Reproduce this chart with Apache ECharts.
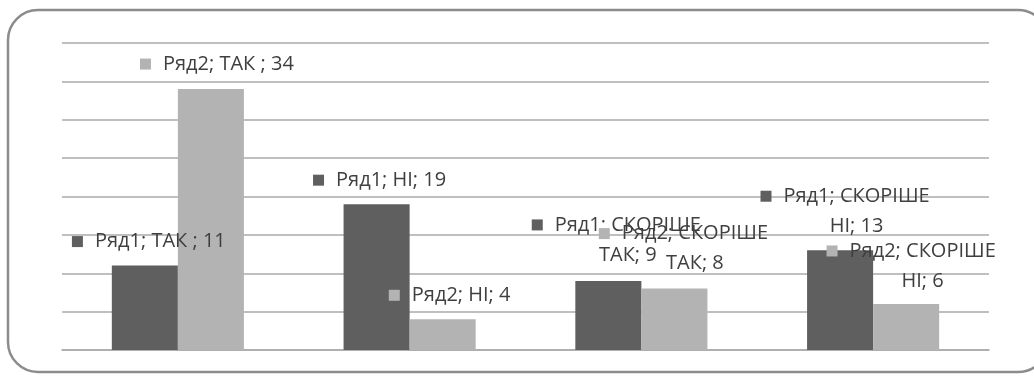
<!DOCTYPE html>
<html>
<head>
<meta charset="utf-8">
<script src="https://cdn.jsdelivr.net/npm/echarts@6/dist/echarts.min.js"></script>
<style>
  html, body { margin: 0; padding: 0; background: #fff; }
  #chart { width: 1034px; height: 376px; }
</style>
</head>
<body>
<div id="chart"></div>
<script>
// ---- data ----
const categories = ['ТАК ', 'НІ', 'СКОРІШЕ ТАК', 'СКОРІШЕ НІ'];
const seriesNames = ['Ряд1', 'Ряд2'];
const row1Values = [11, 19, 9, 13];
const row2Values = [34, 4, 8, 6];
const yMin = 0, yMax = 40, yInterval = 5;

// ---- styling ----
const colors = ['#5f5f5f', '#b3b3b3'];
const fontFamily = '"Open Sans", "Noto Sans", sans-serif';
const textColor = '#3f3f3f';
// label offsets (px) from the top-centre of each bar to the label centre
const labelOffsets = [
  [[4, -24], [3, -24], [8, -41], [5, -39]],
  [[6, -25], [7, -24], [9, -40], [5, -38]]
];

function labelText(sName, cat, val) {
  const trimmed = cat.trim();
  const sp = trimmed.indexOf(' ');
  if (sp > 0) {
    return '{sq|}{g|}{t|' + sName + '; ' + trimmed.slice(0, sp) + '}\n{sp|}{t|' + trimmed.slice(sp + 1) + '; ' + val + '}';
  }
  return '{sq|}{g|}{t|' + sName + '; ' + cat + '; ' + val + '}';
}

function buildSeries(si, values) {
  return {
    name: seriesNames[si],
    type: 'bar',
    barGap: '0%',
    barCategoryGap: '43%',
    itemStyle: { color: colors[si] },
    data: values.map((v, ci) => {
      const multi = categories[ci].trim().indexOf(' ') > 0;
      return {
        value: v,
        label: {
          show: true,
          position: ['50%', 0],
          align: 'center',
          verticalAlign: 'middle',
          offset: labelOffsets[si][ci],
          formatter: labelText(seriesNames[si], categories[ci], v),
          rich: {
            sq: { width: 11, height: 11, backgroundColor: colors[si] },
            g: { width: 12 },
            sp: { width: 23 },
            t: { fontSize: 20, fontFamily: fontFamily, color: textColor, lineHeight: multi ? 30 : 24 }
          }
        }
      };
    })
  };
}

const chart = echarts.init(document.getElementById('chart'), null, { renderer: 'canvas' });
chart.setOption({
  animation: false,
  backgroundColor: '#ffffff',
  graphic: [{
    type: 'rect',
    shape: { x: 8, y: 10, width: 1040, height: 362, r: 30 },
    style: { fill: 'none', stroke: '#8c8c8c', lineWidth: 2.5 },
    z: -1
  }],
  grid: { left: 62, right: 45, top: 43, bottom: 26, containLabel: false },
  xAxis: {
    type: 'category',
    data: categories,
    axisLine: { show: true, lineStyle: { color: '#aaaaaa', width: 1.5 } },
    axisTick: { show: false },
    axisLabel: { show: false }
  },
  yAxis: {
    type: 'value',
    min: yMin, max: yMax, interval: yInterval,
    axisLine: { show: false },
    axisTick: { show: false },
    axisLabel: { show: false },
    splitLine: { show: true, lineStyle: { color: '#aaaaaa', width: 1.5 } }
  },
  series: [buildSeries(0, row1Values), buildSeries(1, row2Values)]
});
</script>
</body>
</html>
